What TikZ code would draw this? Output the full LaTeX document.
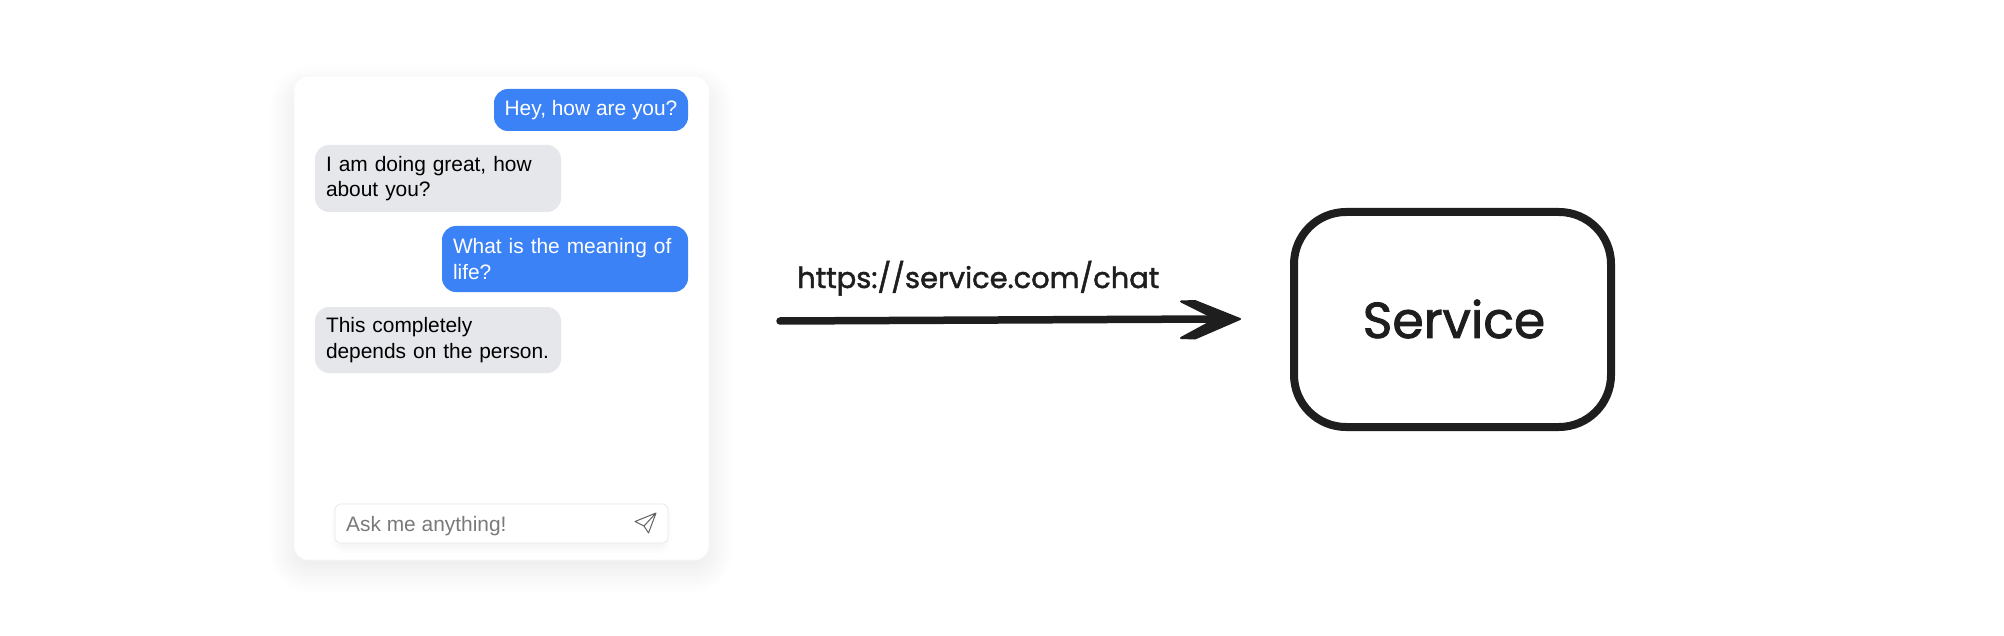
\documentclass[tikz,border=0pt]{standalone}
\usepackage{fontspec}
\setmainfont{Liberation Sans}
\newfontfamily\handfont[FakeBold=1.6]{Poppins}
\usetikzlibrary{calc}
\definecolor{chatblue}{HTML}{3B82F6}
\definecolor{chatgrey}{HTML}{E5E7EB}
\definecolor{ink}{HTML}{1E1E1E}
\definecolor{placeholder}{HTML}{7A7A7A}
\tikzset{
  x=1pt,y=-1pt,
  bubble/.style={rounded corners=14pt,inner sep=0pt,align=left,
    font=\fontsize{20.9}{25.3}\selectfont},
  userbubble/.style={bubble,fill=chatblue,text=white},
  botbubble/.style={bubble,fill=chatgrey,text=black},
  handtext/.style={text=ink,inner sep=0pt},
  flow/.style={ink,line width=7.5pt,line cap=round},
}
\newcommand{\softshadow}[7]{% x1 y1 x2 y2 spread-list radius opacity
  \foreach \s in {#5}{
    \fill[black,opacity=#7,rounded corners=#6pt+\s pt]
      (#1-\s,#2-\s) rectangle (#3+\s,#4+\s);
  }
}
\begin{document}
\begin{tikzpicture}
\useasboundingbox (0,0) rectangle (2004,636);
\fill[white] (0,0) rectangle (2004,636);
% card shadow
\softshadow{298}{94}{705}{564}{0,2,...,28}{12}{0.005}
\node[draw=black!3,line width=0.7pt,fill=white,rounded corners=14pt,minimum width=415pt,minimum height=484pt,inner sep=0pt] (card) at (501.5,318) {};
% bubbles
\node[userbubble,minimum width=194pt,minimum height=42pt] (b1) at (591,110) {Hey, how are you?};
\node[botbubble,minimum width=246pt,minimum height=67pt,text width=224pt] (b2) at (438,178.5) {I am doing great, how\\about you?};
\node[userbubble,minimum width=246pt,minimum height=66pt,text width=224pt] (b3) at (565,259) {What is the meaning of\\life?};
\node[botbubble,minimum width=246pt,minimum height=66pt,text width=224pt] (b4) at (438,340) {This completely\\depends on the person.};
% input
\softshadow{339}{510}{664}{546}{0,...,8}{6}{0.005}
\node[draw=black!9,line width=0.7pt,fill=white,rounded corners=6pt,minimum width=333pt,minimum height=39pt,inner sep=0pt] (input) at (501.5,523.5) {};
\node[anchor=base west,inner sep=0pt,text=placeholder,font=\fontsize{20.9}{24}\selectfont] (ask) at (346,531) {Ask me anything!};
\draw[ink!70,line width=1pt,line join=round] (656,513) -- (635,521.5) -- (644,526) -- (648.5,533) -- cycle (644,526) -- (656,513);
% service
\node[draw=ink,line width=8pt,rounded corners=52pt,minimum width=317pt,minimum height=215pt,inner sep=0pt,fill=white] (service) at (1452.5,319.5) {};
\node[handtext,font=\handfont\fontsize{50.5}{54}\selectfont] (servicelabel) at (1454,319) {Service};
% arrow
\coordinate (from) at (780,321);
\coordinate (tip) at (1240,319);
\draw[flow] (from) -- ($(tip)+(-24,0)$);
\fill[ink,draw=ink,line width=2pt,line join=round] (1181,301.5) -- (1195,301) -- (tip) -- (1195,338.5) -- (1181,338) -- (1216,319) -- cycle;
\node[handtext,font=\handfont\fontsize{28.9}{32}\selectfont,anchor=base west] (url) at (797,288) {https://service.com/chat};
\end{tikzpicture}
\end{document}
